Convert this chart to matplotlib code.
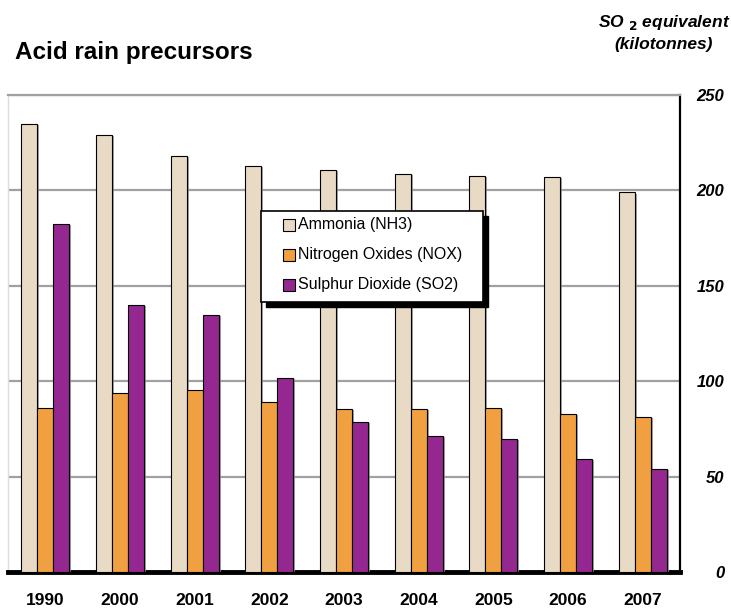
import numpy as np
import matplotlib
matplotlib.use("Agg")
import matplotlib.pyplot as plt
from matplotlib import patheffects as pe
from matplotlib.patches import Rectangle

plt.rcParams['font.family'] = ['Liberation Sans', 'DejaVu Sans']

years = ['1990', '2000', '2001', '2002', '2003', '2004', '2005', '2006', '2007']
ammonia = [234.8, 229.0, 218.0, 213.0, 210.7, 208.6, 207.5, 207.0, 199.0]
nox = [86.0, 93.8, 95.4, 89.0, 85.4, 85.4, 86.0, 82.8, 81.2]
so2 = [182.4, 140.0, 134.7, 101.7, 78.6, 71.3, 69.7, 59.2, 54.0]
labels = ['Ammonia (NH3)', 'Nitrogen Oxides (NOX)', 'Sulphur Dioxide (SO2)']
colors = ['#E8DAC4', '#F0A040', '#952890']

W, H = 731, 609
fig = plt.figure(figsize=(W / 100, H / 100), dpi=100)
ax = fig.add_axes([8 / W, 1 - 572 / H, 672 / W, 477 / H])


def px(x, y):
    # pixel position (from top-left) to figure fraction
    return x / W, 1 - y / H


x = np.arange(len(years))
w = 0.215
shadow = [pe.SimplePatchShadow(offset=(1.5, -1), shadow_rgbFace='#888888', alpha=0.8), pe.Normal()]
for i, (vals, c) in enumerate(zip([ammonia, nox, so2], colors)):
    bars = ax.bar(x + (i - 1) * w, vals, w, color=c, edgecolor='black', linewidth=0.8, zorder=3)
    for b in bars:
        b.set_path_effects(shadow)

ax.set_xlim(-0.5, len(years) - 0.5)
ax.set_ylim(0, 250)
ax.set_yticks([0, 50, 100, 150, 200, 250])
ax.yaxis.tick_right()
ax.tick_params(axis='y', length=0, pad=32, labelsize=12)
ax.tick_params(axis='x', length=0, pad=15, labelsize=12.5)
ax.set_xticks(x)
ax.set_xticklabels(years, fontweight='bold')
for t in ax.get_yticklabels():
    t.set_fontweight('bold')
    t.set_fontstyle('italic')
    t.set_horizontalalignment('right')
ax.grid(axis='y', color='#A0A0A0', linewidth=1.6, zorder=0)

ax.spines['bottom'].set_color('black')
ax.spines['bottom'].set_linewidth(3.5)
ax.spines['right'].set_color('black')
ax.spines['right'].set_linewidth(1.6)
ax.spines['top'].set_color('#A0A0A0')
ax.spines['top'].set_linewidth(1.6)
ax.spines['left'].set_color('#DDDDDD')
ax.spines['left'].set_linewidth(1)

# legend box with black drop shadow
x0, y0 = px(261, 302)
bw, bh = 222 / W, 91 / H
fig.patches.append(Rectangle((x0 + 5 / W, y0 - 5 / H), bw, bh, transform=fig.transFigure,
                             facecolor='black', edgecolor='black', zorder=10))
fig.patches.append(Rectangle((x0, y0), bw, bh, transform=fig.transFigure,
                             facecolor='white', edgecolor='black', linewidth=1.2, zorder=11))
for k, (lab, c) in enumerate(zip(labels, colors)):
    yc = 225 + 30 * k
    sx, sy = px(283, yc + 6)
    fig.patches.append(Rectangle((sx, sy), 12 / W, 12 / H, transform=fig.transFigure,
                                 facecolor=c, edgecolor='black', linewidth=0.8, zorder=12))
    tx, ty = px(298, yc)
    fig.text(tx, ty, lab, fontsize=11.5, va='center', ha='left', zorder=13)

tx, ty = px(15, 52)
fig.text(tx, ty, 'Acid rain precursors', fontsize=17.5, fontweight='bold', va='center', ha='left')
tx, ty = px(664, 22)
fig.text(tx, ty, r'SO $_{\mathbf{2}}$ equivalent', fontsize=12.5, fontweight='bold',
         fontstyle='italic', va='center', ha='center')
tx, ty = px(664, 44)
fig.text(tx, ty, '(kilotonnes)', fontsize=12.5, fontweight='bold', fontstyle='italic',
         va='center', ha='center')

fig.savefig('out.png', dpi=100)
